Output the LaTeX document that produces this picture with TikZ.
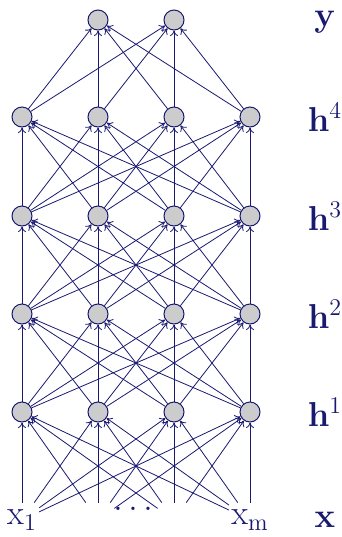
\documentclass[tikz,border=0pt]{standalone}
\usepackage{amsmath}
\usetikzlibrary{arrows.meta}
\definecolor{navy}{RGB}{25,25,112}
\definecolor{unitgrey}{RGB}{204,204,204}

\begin{document}
\begin{tikzpicture}[x=0.5pt, y=-0.5pt,
    unit/.style={circle, draw=navy, fill=unitgrey, minimum size=10pt, inner sep=0pt, line width=0.5pt},
    inp/.style={text=navy, minimum width=16pt, minimum height=17pt, inner sep=1pt, font=\LARGE},
    lyr/.style={text=navy, font=\LARGE, inner sep=0pt},
    wire/.style={-{To[length=2.8pt, width=4pt]}, draw=navy, line width=0.4pt}
  ]
  \useasboundingbox (0,0) rectangle (342,537);
  % hidden units
  \foreach \l/\y in {1/412, 2/314, 3/216, 4/117}
    \foreach \i/\x in {1/22, 2/98, 3/174, 4/250}
      \node[unit] (h\l\i) at (\x,\y) {};
  % outputs
  \node[unit] (y1) at (98,20) {};
  \node[unit] (y2) at (174,20) {};
  % inputs
  \node[inp] (in1) at (22,520) {$\mathrm{x}_1$};
  \node[inp] (in2) at (98,520) {};
  \node[inp] (in3) at (174,520) {};
  \node[inp] (in4) at (250,520) {$\mathrm{x}_\mathrm{m}$};
  \node[lyr] (dots) at (136,509) {$\dots$};

  % layer names
  \node[lyr] (ly) at (325,22) {$\mathbf{y}$};
  \foreach \l/\y in {1/412, 2/314, 3/216, 4/117}
    \node[lyr] (lh\l) at (325,\y) {$\mathbf{h}^{\l}$};
  \node[lyr] (lx) at (325,520) {$\mathbf{x}$};

  % connections
  \foreach \i in {1,...,4}
    \foreach \j in {1,...,4}
      \draw[wire] (in\i) -- (h1\j);
  \foreach \l in {1,2,3} {
    \pgfmathtruncatemacro\k{\l+1}
    \foreach \i in {1,...,4}
      \foreach \j in {1,...,4}
        \draw[wire] (h\l\i) -- (h\k\j);
  }
  \foreach \i in {1,...,4}
    \foreach \j in {1,2}
      \draw[wire] (h4\i) -- (y\j);
\end{tikzpicture}
\end{document}
